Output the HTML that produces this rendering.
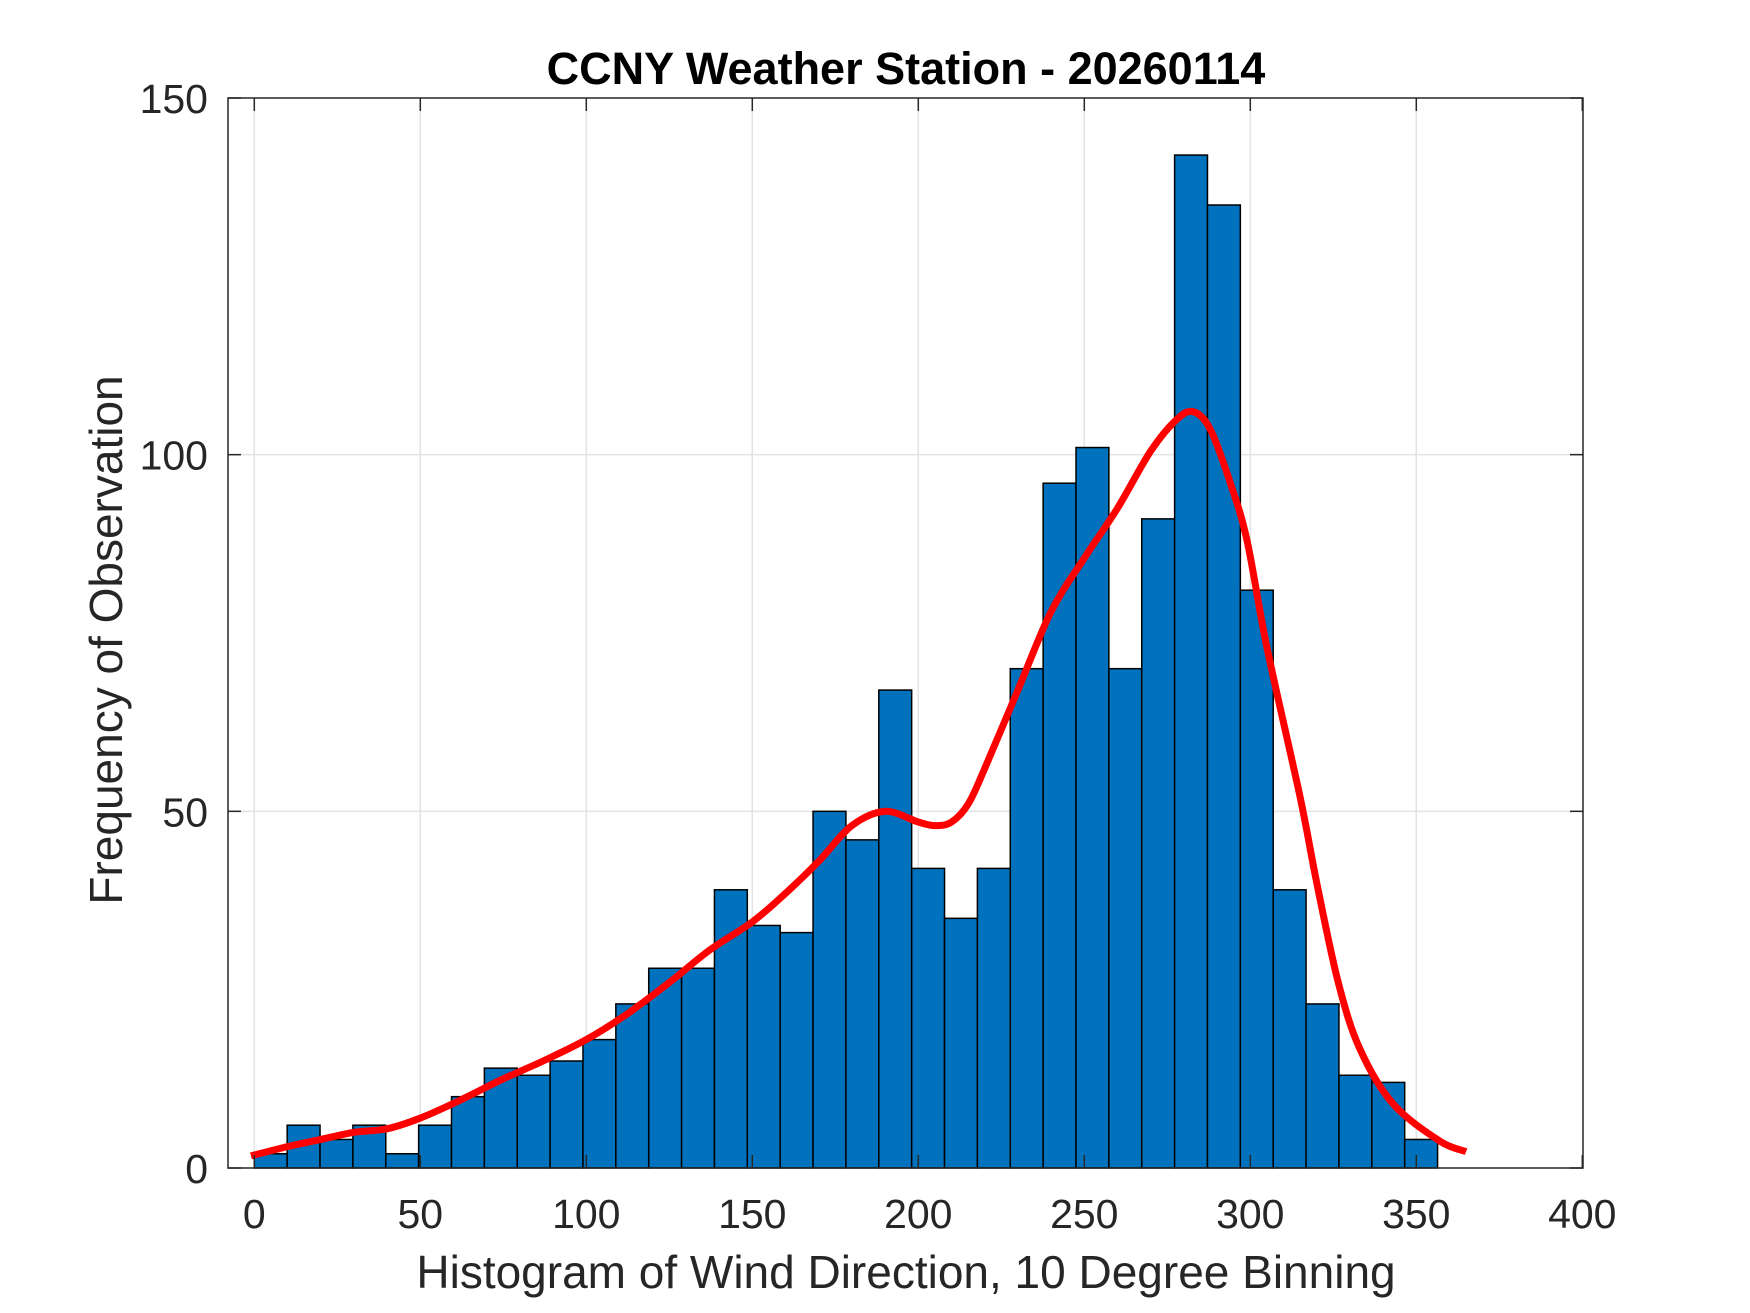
<!DOCTYPE html>
<html><head><meta charset="utf-8"><style>
html,body{margin:0;padding:0;background:#fff}
svg{display:block}
text{font-family:"Liberation Sans",Arial,sans-serif;fill:#262626}
</style></head><body>
<svg id="chart" width="1750" height="1313" viewBox="0 0 1750 1313" xmlns="http://www.w3.org/2000/svg">
<rect width="1750" height="1313" fill="#fff"/>
<g id="grid"></g>
<g id="bars"></g>
<path id="curve" fill="none" stroke="#ff0000" stroke-width="7" stroke-linejoin="round" stroke-linecap="butt"/>
<rect x="228" y="98" width="1355" height="1070" fill="none" stroke="#262626" stroke-width="1.5"/>
<g id="ticks"></g>
<text x="906" y="84" text-anchor="middle" font-size="45" font-weight="bold" style="fill:#000">CCNY Weather Station - 20260114</text>
<text x="906" y="1288" text-anchor="middle" font-size="46">Histogram of Wind Direction, 10 Degree Binning</text>
<text transform="translate(122,640) rotate(-90)" text-anchor="middle" font-size="46">Frequency of Observation</text>
</svg>
<script>
const binStarts=[0,9.9,19.8,29.7,39.6,49.5,59.4,69.3,79.2,89.1,99,108.9,118.8,128.7,138.6,148.5,158.4,168.3,178.2,188.1,198,207.9,217.8,227.7,237.6,247.5,257.4,267.3,277.2,287.1,297,306.9,316.8,326.7,336.6,346.5];
const counts=[2,6,4,6,2,6,10,14,13,15,18,23,28,28,39,34,33,50,46,67,42,35,42,70,96,101,70,91,142,135,81,39,23,13,12,4];
const curveX=[-1,10,20,30,40,50,62,75,87,100,112,125,137,150,160,170,180,190,200,205,210,215,220,230,240,250,260,270,278,283,288,294,299,305,315,320,326.5,333,343,357,365];
const curveY=[1.7,3,4,5,5.5,7,9.5,12.5,15,18,21.5,26,30.5,34.5,38.5,43,48,50,48.5,48,48.5,51,56,67,78,85.5,92.5,100.5,105,106,103.5,96,88,73,52,40,26,16.7,9,3.8,2.3];
const xTicks=[0,50,100,150,200,250,300,350,400];
const yTicks=[0,50,100,150];
const binWidth=9.9;
const NS='http://www.w3.org/2000/svg';
const X0=254.3,XS=166/50,Y0=1168,YS=1070/150;
const L=228,R=1583,T=98,B=1168;
function sx(v){return X0+v*XS;}
function sy(v){return Y0-v*YS;}
function mk(tag,attrs,parent){const e=document.createElementNS(NS,tag);for(const k in attrs)e.setAttribute(k,attrs[k]);parent.appendChild(e);return e;}
const grid=document.getElementById('grid'),bars=document.getElementById('bars'),ticks=document.getElementById('ticks'),svg=document.getElementById('chart');
xTicks.forEach(t=>{const x=sx(t);
 if(x>L+1&&x<R-1){const g=mk('line',{x1:x,x2:x,y1:T,y2:B,stroke:'#e3e3e3','stroke-width':1.5},grid);
 
 }
 const a=mk('line',{x1:x,x2:x,y1:B,y2:B-13,stroke:'#262626','stroke-width':1.5},ticks);
 
 
 const b=mk('line',{x1:x,x2:x,y1:T,y2:T+13,stroke:'#262626','stroke-width':1.5},ticks);
 
 
 const tx=mk('text',{x:x,y:1228,'text-anchor':'middle','font-size':41},svg);tx.textContent=t;
 
 
});
yTicks.forEach(t=>{const y=sy(t);
 if(y>T+1&&y<B-1){const g=mk('line',{x1:L,x2:R,y1:y,y2:y,stroke:'#e3e3e3','stroke-width':1.5},grid);
 
 }
 const a=mk('line',{x1:L,x2:L+13,y1:y,y2:y,stroke:'#262626','stroke-width':1.5},ticks);
 
 
 const b=mk('line',{x1:R,x2:R-13,y1:y,y2:y,stroke:'#262626','stroke-width':1.5},ticks);
 
 
 const tx=mk('text',{x:208,y:y+15,'text-anchor':'end','font-size':41},svg);tx.textContent=t;
 
 
});
binStarts.forEach((s,i)=>{const x1=sx(s),x2=sx(s+binWidth),y=sy(counts[i]);
 const r=mk('rect',{x:x1,y:y,width:x2-x1,height:B-y,fill:'#0072BD',stroke:'#000','stroke-width':1.5},bars);
 
 
});
const pts=curveX.map((v,i)=>[sx(v),sy(curveY[i])]);
let d='M'+pts[0][0]+','+pts[0][1];
for(let i=0;i<pts.length-1;i++){const p0=pts[Math.max(0,i-1)],p1=pts[i],p2=pts[i+1],p3=pts[Math.min(pts.length-1,i+2)];
 const c1=[p1[0]+(p2[0]-p0[0])/6,p1[1]+(p2[1]-p0[1])/6],c2=[p2[0]-(p3[0]-p1[0])/6,p2[1]-(p3[1]-p1[1])/6];
 d+=' C'+c1[0]+','+c1[1]+' '+c2[0]+','+c2[1]+' '+p2[0]+','+p2[1];}
document.getElementById('curve').setAttribute('d',d);
</script>
</body></html>
